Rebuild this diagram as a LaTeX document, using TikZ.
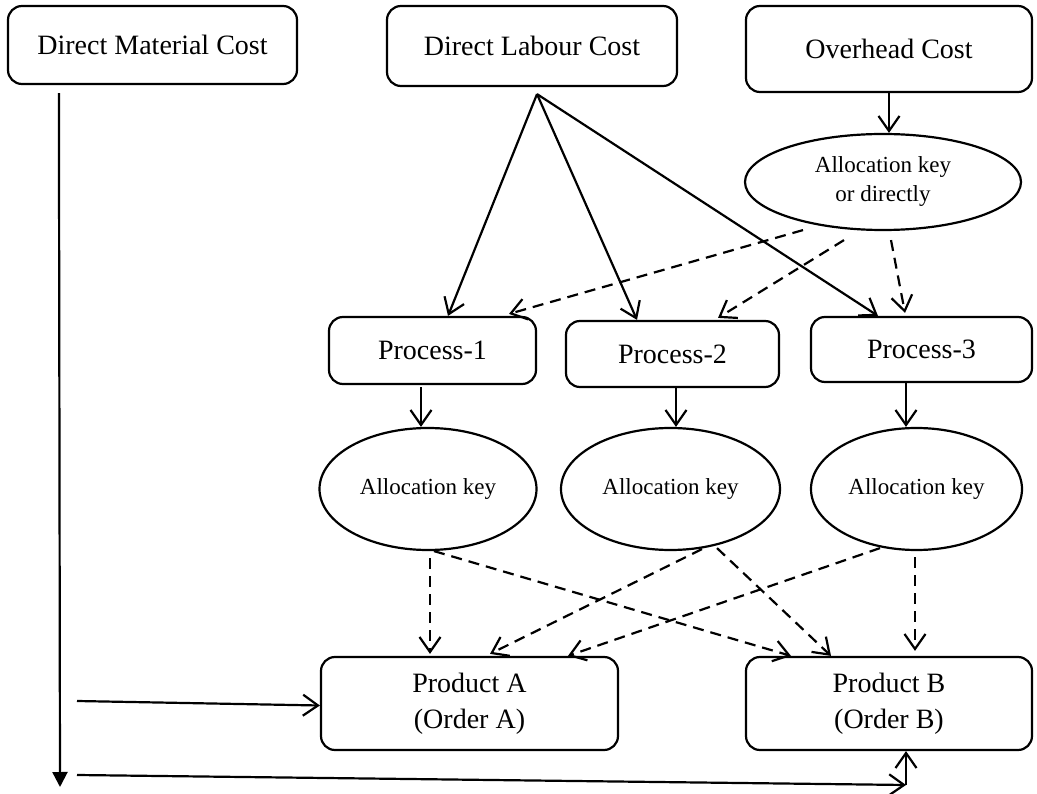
\documentclass[tikz,border=0pt]{standalone}
\usepackage{fontspec}
\setmainfont{Liberation Serif}
\usetikzlibrary{arrows.meta,shapes.geometric,calc}
\begin{document}
\begin{tikzpicture}[x=1pt,y=-1pt,
  box/.style={draw,line width=2.2pt,rounded corners=14pt,inner sep=0pt,font=\fontsize{28}{36}\selectfont,align=center},
  oval/.style={draw,ellipse,line width=2.2pt,inner sep=0pt,font=\fontsize{23}{29}\selectfont,align=center},
  arr/.style={line width=2.2pt,-{Straight Barb[length=15pt,width=21pt,line width=2.2pt]}},
  darr/.style={arr,dash pattern=on 11pt off 7pt},
]
\useasboundingbox (0,0) rectangle (1037,794);
% top row
\node[box,minimum width=289pt,minimum height=78pt] (dmc) at (152.5,45) {Direct Material Cost};
\node[box,minimum width=290pt,minimum height=80pt] (dlc) at (532,46) {Direct Labour Cost};
\node[box,minimum width=286pt,minimum height=86pt] (oc) at (889,49) {Overhead Cost};
\node[oval,minimum width=276pt,minimum height=96pt] (oe) at (883,182) {Allocation key\\or directly};
% processes
\node[box,minimum width=207pt,minimum height=67pt] (p1) at (432.5,350.5) {Process-1};
\node[box,minimum width=213pt,minimum height=66pt] (p2) at (672.5,354) {Process-2};
\node[box,minimum width=221pt,minimum height=65pt] (p3) at (921.5,349.5) {Process-3};
% allocation keys
\node[oval,minimum width=217pt,minimum height=122pt] (e1) at (428,489) {Allocation key};
\node[oval,minimum width=219pt,minimum height=122pt] (e2) at (670.5,489) {Allocation key};
\node[oval,minimum width=211pt,minimum height=122pt] (e3) at (916.5,489) {Allocation key};
% products
\node[box,minimum width=297pt,minimum height=93pt] (pa) at (469.5,703.5) {Product A\\(Order A)};
\node[box,minimum width=286pt,minimum height=93pt] (pb) at (889,703.5) {Product B\\(Order B)};
% overhead
\draw[arr] (oc.south) -- (oc.south |- oe.north);
% labour fan
\coordinate (fan) at ($(dlc.south)+(5,7)$);
\draw[arr] (fan) -- ($(p1.north)+(15.5,0)$);
\draw[arr] (fan) -- ($(p2.north)+(-35.5,0)$);
\draw[arr] (fan) -- ($(p3.north)+(-43.5,0)$);
% overhead key to processes
\draw[darr] ($(oe.south)+(-80,-1)$) -- ($(p1.north)+(76.5,-2)$);
\draw[darr] ($(oe.south)+(-39,9)$) -- ($(p2.north)+(45.5,-2)$);
\draw[darr] ($(oe.south)+(8,9)$) -- ($(p3.north)+(-16.5,-3)$);
% processes to keys
\draw[arr] ($(p1.south)+(-11.5,2)$) -- ($(e1.north)+(-7,0)$);
\draw[arr] ($(p2.south)+(3.5,0)$) -- ($(e2.north)+(5.5,0)$);
\draw[arr] ($(p3.south)+(-15.5,0)$) -- ($(e3.north)+(-10.5,0)$);
% keys to products
\draw[darr] ($(e1.south)+(2,7)$) -- ($(pa.north)+(-39.5,-2)$);
\draw[darr] ($(e1.south)+(6,0)$) -- ($(pb.north)+(-98,0)$);
\draw[darr] ($(e2.south)+(31.5,-2)$) -- ($(pa.north)+(20.5,-2)$);
\draw[darr] ($(e2.south)+(46.5,-3)$) -- ($(pb.north)+(-58,0)$);
\draw[darr] ($(e3.south)+(-36.5,-3)$) -- ($(pa.north)+(98.5,0)$);
\draw[darr] ($(e3.south)+(-1.5,6)$) -- ($(pb.north)+(26,-5)$);
% direct material
\coordinate (mtop) at ($(dmc.south west)+(52,8)$);
\coordinate (mbot) at (60,787);
\draw[line width=2.2pt,-{Triangle[length=15pt,width=15pt]}] (mtop) -- (mbot);
\coordinate (ma) at (77,701);
\draw[arr] (ma) -- ($(pa.west)+(0,2)$);
\coordinate (mb) at (77,775);
\coordinate (corner) at (906,785);
\draw[arr] (mb) -- (corner);
\draw[arr] (corner) -- (pb.south -| corner);
\end{tikzpicture}
\end{document}
